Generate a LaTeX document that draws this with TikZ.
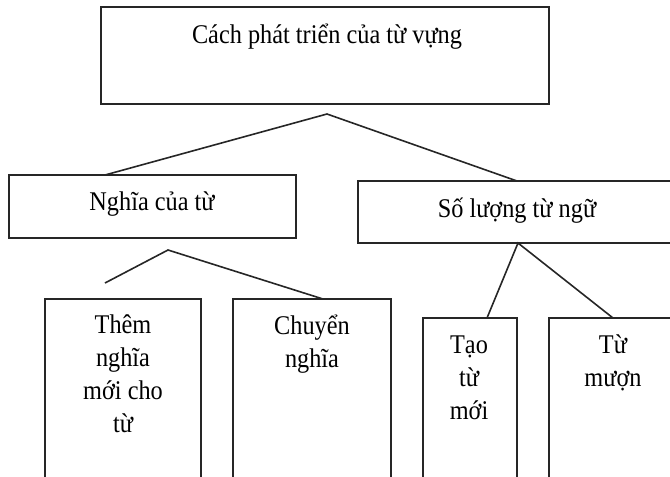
\documentclass[tikz,border=0pt]{standalone}
\usepackage{fontspec}
\setmainfont{Liberation Serif}[FakeStretch=0.9]
\usetikzlibrary{calc}
\begin{document}
\begin{tikzpicture}[x=1pt,y=-1pt,
  box/.style={draw=black!85, line width=2pt, inner sep=0pt, outer sep=0pt},
  link/.style={draw=black!85, line width=1.6pt},
  txt/.style={inner sep=0pt, align=center, font=\fontsize{27}{33}\selectfont}]
  \useasboundingbox (0,0) rectangle (670,477);
  \clip (0,0) rectangle (670,477);

  % boxes (the lower ones run past the bottom edge)
  \node[box, minimum width=448pt, minimum height=97pt] (root) at (325,55.5) {};
  \node[box, minimum width=287pt, minimum height=63pt] (nghia) at (152.5,206.5) {};
  \node[box, minimum width=318pt, minimum height=62pt] (soluong) at (517,212) {};
  \node[box, minimum width=156pt, minimum height=201pt] (them) at (123,399.5) {};
  \node[box, minimum width=158pt, minimum height=201pt] (chuyen) at (312,399.5) {};
  \node[box, minimum width=94pt, minimum height=182pt] (tao) at (470,409) {};
  \node[box, minimum width=128pt, minimum height=182pt] (tumuon) at (613,409) {};

  % labels
  \node[txt, anchor=base] (troot) at (327,43) {Cách phát triển của từ vựng};
  \node[txt, anchor=base] (tnghia) at (152,210) {Nghĩa của từ};
  \node[txt, anchor=base] (tsoluong) at (517,217) {Số lượng từ ngữ};
  \node[txt, anchor=north] (tthem) at (123,310) {\strut Thêm\\\strut nghĩa\\\strut mới cho\\\strut từ};
  \node[txt, anchor=north] (tchuyen) at (312,311) {\strut Chuyển\\\strut nghĩa};
  \node[txt, anchor=north] (ttao) at (469,330) {\strut Tạo\\\strut từ\\\strut mới};
  \node[txt, anchor=north] (ttumuon) at (613,330) {\strut Từ\\\strut mượn};

  % connectors
  \coordinate (j1) at (327,114);
  \draw[link] ($(nghia.north west)+(96,0)$) -- (j1) -- ($(soluong.north west)+(159,0)$);
  \coordinate (j2) at (168,250);
  \coordinate (e2) at (105,283);
  \draw[link] (e2) -- (j2) -- ($(chuyen.north west)+(90,0)$);
  \draw[link] ($(tao.north west)+(64,0)$) -- ($(soluong.south west)+(160,0)$) -- ($(tumuon.north west)+(64,0)$);
\end{tikzpicture}
\end{document}
